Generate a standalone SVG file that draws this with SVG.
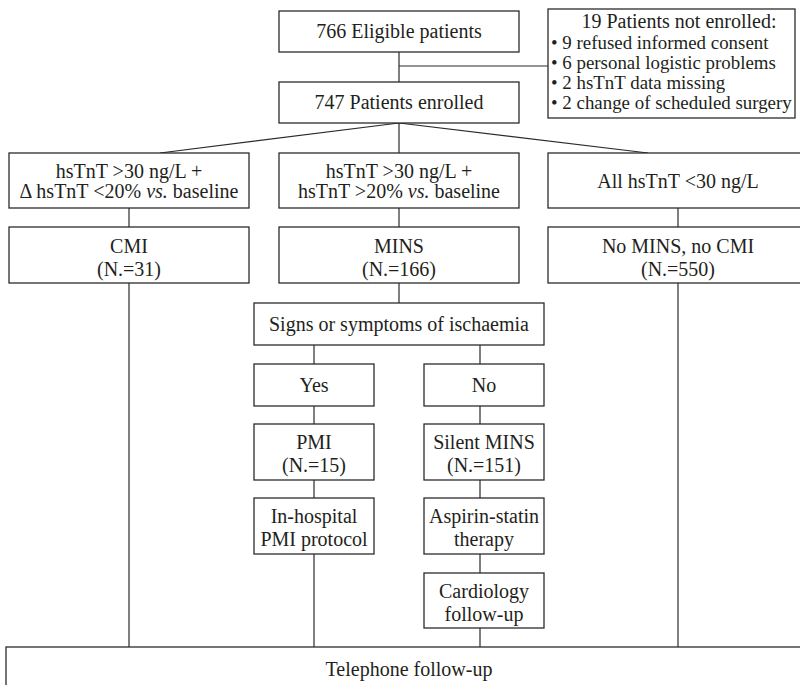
<svg xmlns="http://www.w3.org/2000/svg" width="800" height="685" viewBox="0 0 800 685" font-family="'Liberation Serif', 'Times New Roman', serif">
<style>
  .box { fill: #ffffff; stroke: #2b2b2b; stroke-width: 1.3; }
  .ln { fill: none; stroke: #2b2b2b; stroke-width: 1.2; }
  text { font-family: "Liberation Serif", "Times New Roman", serif; font-size: 20px; fill: #231f20; }
  .c { text-anchor: middle; }
  .i { font-style: italic; }
  .b { font-size: 18.9px; }
</style>
<rect x="0" y="0" width="800" height="685" fill="#ffffff"/>
<g id="connectors">
  <path class="ln" d="M399 52 V82 M399 66 H548"/>
  <path class="ln" d="M399 123 L160 153 M399 123 V153 M399 123 L648 153"/>
  <path class="ln" d="M129 208 V227 M399 208 V227 M678 208 V227"/>
  <path class="ln" d="M129 283 V647 M678 283 V647 M399 283 V303"/>
  <path class="ln" d="M314 345 V364 M480 345 V364"/>
  <path class="ln" d="M314 406 V424 M480 406 V424"/>
  <path class="ln" d="M314 480 V498 M480 480 V498"/>
  <path class="ln" d="M314 554 V647 M480 554 V573 M480 628 V647"/>
</g>
<g id="eligible">
  <rect class="box" x="279" y="11" width="240" height="41"/>
  <text class="c" x="399" y="38">766 Eligible patients</text>
</g>
<g id="not-enrolled">
  <rect class="box" x="548" y="9" width="247" height="109"/>
  <text class="c" x="679" y="28">19 Patients not enrolled:</text>
  <text class="b" x="551" y="49">• 9 refused informed consent</text>
  <text class="b" x="551" y="69">• 6 personal logistic problems</text>
  <text class="b" x="551" y="89">• 2 hsTnT data missing</text>
  <text class="b" x="551" y="109">• 2 change of scheduled surgery</text>
</g>
<g id="enrolled">
  <rect class="box" x="279" y="82" width="240" height="41"/>
  <text class="c" x="399" y="109">747 Patients enrolled</text>
</g>
<g id="crit-cmi">
  <rect class="box" x="9" y="153" width="240" height="55"/>
  <text class="c" x="129" y="178">hsTnT &gt;30 ng/L +</text>
  <text class="c" x="129" y="198">Δ hsTnT &lt;20% <tspan class="i">vs.</tspan> baseline</text>
</g>
<g id="crit-mins">
  <rect class="box" x="279" y="153" width="240" height="55"/>
  <text class="c" x="399" y="178">hsTnT &gt;30 ng/L +</text>
  <text class="c" x="399" y="198">hsTnT &gt;20% <tspan class="i">vs.</tspan> baseline</text>
</g>
<g id="crit-none">
  <rect class="box" x="548" y="153" width="260" height="55"/>
  <text class="c" x="678" y="188">All hsTnT &lt;30 ng/L</text>
</g>
<g id="cmi">
  <rect class="box" x="9" y="227" width="240" height="56"/>
  <text class="c" x="129" y="253">CMI</text>
  <text class="c" x="129" y="276">(N.=31)</text>
</g>
<g id="mins">
  <rect class="box" x="279" y="227" width="240" height="56"/>
  <text class="c" x="399" y="253">MINS</text>
  <text class="c" x="399" y="276">(N.=166)</text>
</g>
<g id="no-mins">
  <rect class="box" x="548" y="227" width="260" height="56"/>
  <text class="c" x="678" y="253">No MINS, no CMI</text>
  <text class="c" x="678" y="276">(N.=550)</text>
</g>
<g id="signs">
  <rect class="box" x="254" y="303" width="290" height="42"/>
  <text class="c" x="399" y="331">Signs or symptoms of ischaemia</text>
</g>
<g id="yes">
  <rect class="box" x="254" y="364" width="120" height="42"/>
  <text class="c" x="314" y="392">Yes</text>
</g>
<g id="no">
  <rect class="box" x="424" y="364" width="120" height="42"/>
  <text class="c" x="484" y="392">No</text>
</g>
<g id="pmi">
  <rect class="box" x="254" y="424" width="120" height="56"/>
  <text class="c" x="314" y="449">PMI</text>
  <text class="c" x="314" y="472">(N.=15)</text>
</g>
<g id="silent">
  <rect class="box" x="424" y="424" width="120" height="56"/>
  <text class="c" x="484" y="449">Silent MINS</text>
  <text class="c" x="484" y="472">(N.=151)</text>
</g>
<g id="pmi-protocol">
  <rect class="box" x="254" y="498" width="120" height="56"/>
  <text class="c" x="314" y="523">In-hospital</text>
  <text class="c" x="314" y="546">PMI protocol</text>
</g>
<g id="aspirin">
  <rect class="box" x="424" y="498" width="120" height="56"/>
  <text class="c" x="484" y="523">Aspirin-statin</text>
  <text class="c" x="484" y="546">therapy</text>
</g>
<g id="cardiology">
  <rect class="box" x="424" y="573" width="120" height="55"/>
  <text class="c" x="484" y="598">Cardiology</text>
  <text class="c" x="484" y="621">follow-up</text>
</g>
<g id="telephone">
  <rect class="box" x="6" y="647" width="808" height="60"/>
  <text class="c" x="409" y="676">Telephone follow-up</text>
</g>
</svg>
